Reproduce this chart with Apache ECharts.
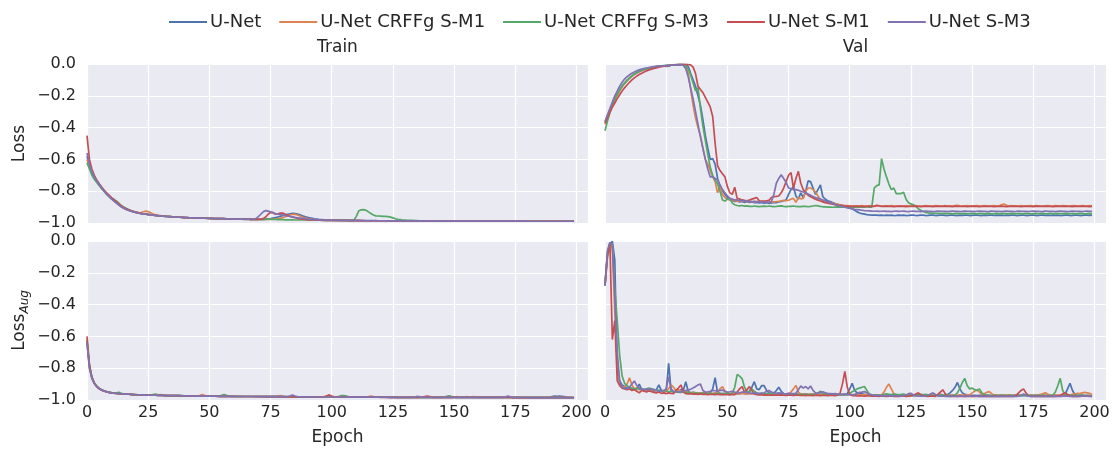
<!DOCTYPE html>
<html>
<head>
<meta charset="utf-8">
<script src="https://cdn.jsdelivr.net/npm/echarts@6/dist/echarts.min.js"></script>
<style>
  html, body { margin: 0; padding: 0; background: #ffffff; }
  #chart { width: 1113px; height: 451px; }
</style>
</head>
<body>
<div id="chart"></div>
<script>
// Model names (legend) and colours (seaborn "deep")
const modelNames = ['U-Net', 'U-Net CRFFg S-M1', 'U-Net CRFFg S-M3', 'U-Net S-M1', 'U-Net S-M3'];
const modelColors = ['#4C72B0', '#DD8452', '#55A868', '#C44E52', '#8172B3'];
const panelTitles = ['Train', 'Val'];
const rowLabels = ['Loss', 'LossAug'];
const xTicks = [0, 25, 50, 75, 100, 125, 150, 175, 200];
const yTicks = [-1.0, -0.8, -0.6, -0.4, -0.2, 0.0];
const epochs = Array.from({ length: 200 }, (_, i) => i);

// ---- Train loss ----
const trainLossUNet = [
-0.58,-0.64,-0.68,-0.71,-0.735,-0.755,-0.775,-0.795,-0.815,-0.83,
-0.845,-0.85,-0.87,-0.885,-0.898,-0.907,-0.914,-0.92,-0.925,-0.93,
-0.934,-0.937,-0.94,-0.942,-0.944,-0.946,-0.948,-0.95,-0.952,-0.953,
-0.955,-0.956,-0.957,-0.959,-0.96,-0.961,-0.962,-0.963,-0.964,-0.965,
-0.966,-0.966,-0.967,-0.967,-0.968,-0.968,-0.969,-0.969,-0.97,-0.97,
-0.971,-0.971,-0.972,-0.972,-0.972,-0.973,-0.973,-0.974,-0.974,-0.974,
-0.975,-0.975,-0.975,-0.976,-0.976,-0.976,-0.976,-0.977,-0.977,-0.977,
-0.977,-0.977,-0.977,-0.976,-0.974,-0.972,-0.969,-0.966,-0.962,-0.958,
-0.953,-0.949,-0.945,-0.942,-0.94,-0.941,-0.944,-0.949,-0.955,-0.96,
-0.964,-0.968,-0.971,-0.974,-0.976,-0.978,-0.979,-0.98,-0.981,-0.981,
-0.982,-0.982,-0.982,-0.983,-0.983,-0.983,-0.983,-0.984,-0.984,-0.984,
-0.984,-0.984,-0.985,-0.985,-0.985,-0.985,-0.985,-0.985,-0.985,-0.986,
-0.986,-0.986,-0.986,-0.986,-0.986,-0.986,-0.986,-0.986,-0.987,-0.987,
-0.987,-0.987,-0.987,-0.987,-0.987,-0.987,-0.987,-0.987,-0.987,-0.987,
-0.987,-0.987,-0.987,-0.988,-0.988,-0.988,-0.988,-0.988,-0.988,-0.988,
-0.988,-0.988,-0.988,-0.988,-0.988,-0.988,-0.988,-0.988,-0.988,-0.988,
-0.988,-0.988,-0.988,-0.988,-0.988,-0.988,-0.988,-0.988,-0.988,-0.988,
-0.988,-0.988,-0.988,-0.988,-0.988,-0.989,-0.989,-0.989,-0.989,-0.989,
-0.989,-0.989,-0.989,-0.989,-0.989,-0.989,-0.989,-0.989,-0.989,-0.989,
-0.989,-0.989,-0.989,-0.989,-0.989,-0.989,-0.989,-0.989,-0.989,-0.989
];
const trainLossCrffM1 = [
-0.6,-0.65,-0.69,-0.72,-0.74,-0.76,-0.78,-0.8,-0.815,-0.83,
-0.845,-0.86,-0.873,-0.886,-0.897,-0.906,-0.913,-0.919,-0.924,-0.929,
-0.933,-0.936,-0.934,-0.929,-0.925,-0.928,-0.936,-0.944,-0.949,-0.952,
-0.954,-0.956,-0.957,-0.958,-0.96,-0.961,-0.962,-0.963,-0.964,-0.965,
-0.966,-0.967,-0.967,-0.968,-0.968,-0.969,-0.969,-0.97,-0.97,-0.971,
-0.971,-0.972,-0.972,-0.972,-0.973,-0.973,-0.974,-0.974,-0.974,-0.975,
-0.975,-0.975,-0.976,-0.976,-0.976,-0.977,-0.977,-0.977,-0.977,-0.978,
-0.977,-0.978,-0.978,-0.978,-0.978,-0.977,-0.976,-0.975,-0.973,-0.97,
-0.966,-0.961,-0.955,-0.948,-0.945,-0.946,-0.95,-0.956,-0.962,-0.967,
-0.971,-0.974,-0.977,-0.979,-0.98,-0.981,-0.982,-0.982,-0.983,-0.983,
-0.983,-0.984,-0.984,-0.984,-0.984,-0.985,-0.985,-0.985,-0.985,-0.985,
-0.985,-0.985,-0.986,-0.986,-0.986,-0.986,-0.986,-0.986,-0.986,-0.986,
-0.986,-0.986,-0.987,-0.987,-0.987,-0.987,-0.987,-0.987,-0.987,-0.987,
-0.987,-0.987,-0.987,-0.987,-0.987,-0.987,-0.987,-0.987,-0.987,-0.987,
-0.987,-0.987,-0.988,-0.988,-0.988,-0.988,-0.988,-0.988,-0.988,-0.988,
-0.988,-0.988,-0.988,-0.988,-0.988,-0.988,-0.988,-0.988,-0.988,-0.988,
-0.988,-0.988,-0.988,-0.988,-0.988,-0.988,-0.988,-0.988,-0.988,-0.988,
-0.988,-0.988,-0.988,-0.988,-0.988,-0.988,-0.988,-0.988,-0.988,-0.988,
-0.988,-0.988,-0.988,-0.988,-0.988,-0.988,-0.988,-0.988,-0.988,-0.988,
-0.988,-0.988,-0.988,-0.988,-0.988,-0.989,-0.989,-0.989,-0.989,-0.989
];
const trainLossCrffM3 = [
-0.62,-0.66,-0.7,-0.725,-0.745,-0.765,-0.785,-0.8,-0.82,-0.835,
-0.848,-0.856,-0.86,-0.875,-0.89,-0.9,-0.908,-0.915,-0.921,-0.926,
-0.931,-0.935,-0.939,-0.942,-0.944,-0.947,-0.949,-0.951,-0.953,-0.954,
-0.956,-0.957,-0.958,-0.959,-0.96,-0.961,-0.962,-0.963,-0.964,-0.965,
-0.966,-0.967,-0.967,-0.968,-0.968,-0.969,-0.969,-0.97,-0.97,-0.971,
-0.971,-0.972,-0.972,-0.973,-0.973,-0.973,-0.974,-0.974,-0.975,-0.975,
-0.975,-0.976,-0.976,-0.976,-0.977,-0.977,-0.977,-0.977,-0.978,-0.978,
-0.978,-0.978,-0.978,-0.977,-0.976,-0.976,-0.977,-0.978,-0.979,-0.979,
-0.979,-0.98,-0.98,-0.98,-0.98,-0.981,-0.981,-0.981,-0.981,-0.981,
-0.982,-0.982,-0.982,-0.982,-0.982,-0.982,-0.983,-0.983,-0.983,-0.983,
-0.983,-0.983,-0.983,-0.983,-0.983,-0.983,-0.983,-0.983,-0.983,-0.983,
-0.96,-0.925,-0.917,-0.916,-0.92,-0.93,-0.94,-0.95,-0.955,-0.956,
-0.957,-0.958,-0.958,-0.96,-0.963,-0.968,-0.973,-0.977,-0.979,-0.981,
-0.982,-0.983,-0.984,-0.984,-0.985,-0.985,-0.986,-0.986,-0.986,-0.986,
-0.987,-0.987,-0.987,-0.987,-0.987,-0.987,-0.987,-0.988,-0.988,-0.988,
-0.988,-0.988,-0.988,-0.988,-0.988,-0.988,-0.988,-0.988,-0.988,-0.988,
-0.988,-0.988,-0.988,-0.988,-0.988,-0.988,-0.988,-0.988,-0.988,-0.988,
-0.988,-0.988,-0.988,-0.988,-0.988,-0.988,-0.989,-0.989,-0.989,-0.989,
-0.989,-0.989,-0.989,-0.989,-0.989,-0.989,-0.989,-0.989,-0.989,-0.989,
-0.989,-0.989,-0.989,-0.989,-0.989,-0.989,-0.989,-0.989,-0.989,-0.989
];
const trainLossSM1 = [
-0.45,-0.6,-0.66,-0.7,-0.73,-0.755,-0.775,-0.795,-0.81,-0.825,
-0.84,-0.855,-0.868,-0.88,-0.892,-0.902,-0.91,-0.917,-0.923,-0.928,
-0.932,-0.936,-0.939,-0.942,-0.944,-0.946,-0.948,-0.95,-0.952,-0.954,
-0.955,-0.956,-0.958,-0.959,-0.96,-0.961,-0.962,-0.963,-0.964,-0.965,
-0.966,-0.966,-0.967,-0.967,-0.968,-0.968,-0.969,-0.969,-0.97,-0.97,
-0.971,-0.971,-0.972,-0.972,-0.972,-0.973,-0.973,-0.974,-0.974,-0.974,
-0.975,-0.975,-0.975,-0.976,-0.976,-0.976,-0.976,-0.977,-0.977,-0.977,
-0.977,-0.976,-0.973,-0.962,-0.945,-0.933,-0.935,-0.945,-0.942,-0.937,
-0.938,-0.945,-0.952,-0.958,-0.963,-0.967,-0.971,-0.974,-0.976,-0.978,
-0.979,-0.98,-0.981,-0.981,-0.982,-0.982,-0.982,-0.983,-0.983,-0.983,
-0.983,-0.983,-0.984,-0.984,-0.984,-0.984,-0.984,-0.985,-0.985,-0.985,
-0.985,-0.985,-0.985,-0.985,-0.986,-0.986,-0.986,-0.986,-0.986,-0.986,
-0.986,-0.986,-0.986,-0.986,-0.987,-0.987,-0.987,-0.987,-0.987,-0.987,
-0.987,-0.987,-0.987,-0.987,-0.987,-0.987,-0.987,-0.987,-0.987,-0.987,
-0.987,-0.988,-0.988,-0.988,-0.988,-0.988,-0.988,-0.988,-0.988,-0.988,
-0.988,-0.988,-0.988,-0.988,-0.988,-0.988,-0.988,-0.988,-0.988,-0.988,
-0.988,-0.988,-0.988,-0.988,-0.988,-0.988,-0.988,-0.988,-0.988,-0.988,
-0.988,-0.988,-0.988,-0.988,-0.988,-0.988,-0.988,-0.988,-0.989,-0.989,
-0.989,-0.989,-0.989,-0.989,-0.989,-0.989,-0.989,-0.989,-0.989,-0.989,
-0.989,-0.989,-0.989,-0.989,-0.989,-0.989,-0.989,-0.989,-0.989,-0.989
];
const trainLossSM3 = [
-0.56,-0.63,-0.675,-0.71,-0.735,-0.76,-0.78,-0.8,-0.817,-0.833,
-0.848,-0.862,-0.875,-0.887,-0.898,-0.907,-0.915,-0.921,-0.926,-0.931,
-0.935,-0.938,-0.941,-0.943,-0.945,-0.947,-0.949,-0.951,-0.953,-0.954,
-0.956,-0.957,-0.958,-0.959,-0.96,-0.961,-0.962,-0.963,-0.964,-0.965,
-0.966,-0.966,-0.967,-0.967,-0.968,-0.968,-0.969,-0.969,-0.97,-0.97,
-0.971,-0.971,-0.972,-0.972,-0.972,-0.973,-0.973,-0.974,-0.974,-0.974,
-0.975,-0.975,-0.975,-0.976,-0.976,-0.976,-0.976,-0.977,-0.976,-0.972,
-0.96,-0.945,-0.93,-0.922,-0.925,-0.93,-0.935,-0.94,-0.944,-0.947,
-0.95,-0.953,-0.956,-0.959,-0.962,-0.965,-0.967,-0.969,-0.971,-0.973,
-0.975,-0.976,-0.977,-0.978,-0.979,-0.98,-0.981,-0.981,-0.982,-0.982,
-0.983,-0.983,-0.983,-0.984,-0.984,-0.984,-0.984,-0.985,-0.985,-0.985,
-0.985,-0.985,-0.985,-0.986,-0.986,-0.986,-0.986,-0.986,-0.986,-0.986,
-0.986,-0.986,-0.987,-0.987,-0.987,-0.987,-0.987,-0.987,-0.987,-0.987,
-0.987,-0.987,-0.987,-0.987,-0.987,-0.987,-0.987,-0.987,-0.987,-0.988,
-0.988,-0.988,-0.988,-0.988,-0.988,-0.988,-0.988,-0.988,-0.988,-0.988,
-0.988,-0.988,-0.988,-0.988,-0.988,-0.988,-0.988,-0.988,-0.988,-0.988,
-0.988,-0.988,-0.988,-0.988,-0.988,-0.988,-0.988,-0.988,-0.988,-0.988,
-0.988,-0.988,-0.988,-0.988,-0.988,-0.988,-0.988,-0.988,-0.988,-0.988,
-0.989,-0.989,-0.989,-0.989,-0.989,-0.989,-0.989,-0.989,-0.989,-0.989,
-0.989,-0.989,-0.989,-0.989,-0.989,-0.989,-0.989,-0.989,-0.989,-0.989
];

// ---- Validation loss ----
const valLossUNet = [
-0.37,-0.33,-0.29,-0.255,-0.22,-0.19,-0.163,-0.14,-0.12,-0.103,
-0.088,-0.075,-0.064,-0.055,-0.047,-0.04,-0.035,-0.03,-0.026,-0.022,
-0.019,-0.016,-0.014,-0.012,-0.012,-0.015,-0.013,-0.008,-0.006,-0.004,
-0.003,-0.002,-0.003,-0.005,-0.015,-0.06,-0.1,-0.14,-0.2,-0.26,
-0.35,-0.45,-0.53,-0.6,-0.595,-0.63,-0.72,-0.77,-0.795,-0.82,
-0.84,-0.855,-0.86,-0.865,-0.862,-0.868,-0.865,-0.87,-0.866,-0.87,
-0.868,-0.872,-0.87,-0.874,-0.87,-0.875,-0.872,-0.876,-0.874,-0.87,
-0.872,-0.868,-0.865,-0.86,-0.855,-0.82,-0.79,-0.77,-0.83,-0.85,
-0.81,-0.84,-0.8,-0.735,-0.74,-0.78,-0.82,-0.79,-0.76,-0.835,
-0.85,-0.86,-0.865,-0.872,-0.878,-0.882,-0.887,-0.891,-0.895,-0.898,
-0.902,-0.91,-0.92,-0.93,-0.937,-0.941,-0.944,-0.947,-0.949,-0.95,
-0.951,-0.95,-0.952,-0.951,-0.953,-0.95,-0.952,-0.951,-0.953,-0.952,
-0.95,-0.952,-0.951,-0.953,-0.952,-0.95,-0.951,-0.953,-0.952,-0.95,
-0.951,-0.953,-0.952,-0.95,-0.951,-0.953,-0.952,-0.951,-0.95,-0.952,
-0.953,-0.951,-0.95,-0.952,-0.953,-0.951,-0.952,-0.95,-0.951,-0.953,
-0.952,-0.951,-0.95,-0.952,-0.953,-0.951,-0.952,-0.95,-0.951,-0.953,
-0.951,-0.952,-0.95,-0.953,-0.951,-0.952,-0.95,-0.951,-0.953,-0.952,
-0.95,-0.951,-0.953,-0.952,-0.951,-0.95,-0.952,-0.953,-0.951,-0.95,
-0.952,-0.951,-0.953,-0.95,-0.952,-0.951,-0.953,-0.952,-0.95,-0.951,
-0.953,-0.952,-0.95,-0.951,-0.953,-0.952,-0.951,-0.95,-0.952,-0.951
];
const valLossCrffM1 = [
-0.38,-0.34,-0.3,-0.26,-0.225,-0.195,-0.168,-0.143,-0.122,-0.105,
-0.09,-0.077,-0.066,-0.057,-0.049,-0.042,-0.036,-0.031,-0.027,-0.023,
-0.02,-0.017,-0.015,-0.013,-0.011,-0.01,-0.008,-0.007,-0.006,-0.005,
-0.004,-0.004,-0.006,-0.012,-0.06,-0.16,-0.26,-0.34,-0.4,-0.45,
-0.53,-0.6,-0.63,-0.67,-0.71,-0.74,-0.81,-0.77,-0.82,-0.84,
-0.85,-0.855,-0.858,-0.86,-0.862,-0.865,-0.86,-0.863,-0.866,-0.862,
-0.865,-0.867,-0.863,-0.866,-0.868,-0.864,-0.867,-0.869,-0.866,-0.868,
-0.866,-0.864,-0.86,-0.858,-0.86,-0.857,-0.85,-0.845,-0.87,-0.84,
-0.848,-0.845,-0.8,-0.78,-0.78,-0.79,-0.805,-0.83,-0.85,-0.865,
-0.868,-0.87,-0.872,-0.875,-0.878,-0.882,-0.885,-0.888,-0.89,-0.891,
-0.892,-0.893,-0.892,-0.894,-0.893,-0.891,-0.893,-0.894,-0.892,-0.893,
-0.894,-0.892,-0.89,-0.893,-0.894,-0.892,-0.893,-0.891,-0.894,-0.893,
-0.892,-0.894,-0.893,-0.891,-0.893,-0.894,-0.892,-0.89,-0.893,-0.894,
-0.893,-0.891,-0.894,-0.892,-0.893,-0.89,-0.892,-0.894,-0.893,-0.891,
-0.894,-0.892,-0.893,-0.891,-0.889,-0.892,-0.894,-0.893,-0.891,-0.893,
-0.892,-0.894,-0.891,-0.893,-0.892,-0.89,-0.893,-0.894,-0.892,-0.891,
-0.893,-0.892,-0.886,-0.88,-0.889,-0.893,-0.891,-0.894,-0.892,-0.893,
-0.891,-0.893,-0.894,-0.892,-0.89,-0.893,-0.891,-0.892,-0.894,-0.893,
-0.892,-0.89,-0.893,-0.894,-0.891,-0.892,-0.893,-0.89,-0.892,-0.894,
-0.893,-0.891,-0.892,-0.894,-0.893,-0.89,-0.892,-0.893,-0.891,-0.892
];
const valLossCrffM3 = [
-0.42,-0.36,-0.305,-0.26,-0.22,-0.19,-0.163,-0.14,-0.12,-0.103,
-0.088,-0.075,-0.064,-0.055,-0.047,-0.04,-0.035,-0.03,-0.026,-0.022,
-0.019,-0.016,-0.014,-0.012,-0.01,-0.009,-0.008,-0.007,-0.006,-0.005,
-0.004,-0.004,-0.006,-0.01,-0.03,-0.07,-0.12,-0.17,-0.15,-0.28,
-0.39,-0.48,-0.57,-0.65,-0.7,-0.73,-0.755,-0.8,-0.855,-0.862,
-0.85,-0.845,-0.875,-0.885,-0.89,-0.892,-0.89,-0.894,-0.892,-0.895,
-0.896,-0.893,-0.895,-0.897,-0.895,-0.894,-0.896,-0.893,-0.895,-0.897,
-0.896,-0.894,-0.892,-0.895,-0.897,-0.896,-0.895,-0.893,-0.896,-0.897,
-0.897,-0.895,-0.896,-0.898,-0.896,-0.893,-0.89,-0.892,-0.896,-0.898,
-0.899,-0.9,-0.9,-0.901,-0.9,-0.899,-0.9,-0.9,-0.899,-0.9,
-0.9,-0.901,-0.899,-0.9,-0.9,-0.899,-0.9,-0.898,-0.9,-0.9,
-0.78,-0.765,-0.76,-0.595,-0.66,-0.71,-0.755,-0.79,-0.78,-0.815,
-0.815,-0.815,-0.807,-0.85,-0.872,-0.88,-0.885,-0.895,-0.91,-0.92,
-0.928,-0.934,-0.937,-0.938,-0.939,-0.94,-0.94,-0.94,-0.941,-0.94,
-0.941,-0.94,-0.942,-0.941,-0.94,-0.942,-0.941,-0.94,-0.941,-0.942,
-0.94,-0.941,-0.942,-0.94,-0.941,-0.942,-0.941,-0.94,-0.942,-0.941,
-0.94,-0.942,-0.941,-0.94,-0.941,-0.942,-0.94,-0.941,-0.942,-0.94,
-0.941,-0.942,-0.94,-0.941,-0.942,-0.941,-0.94,-0.942,-0.941,-0.94,
-0.942,-0.941,-0.94,-0.942,-0.941,-0.94,-0.941,-0.942,-0.94,-0.941,
-0.942,-0.94,-0.941,-0.942,-0.94,-0.941,-0.942,-0.941,-0.94,-0.941
];
const valLossSM1 = [
-0.37,-0.34,-0.305,-0.272,-0.245,-0.218,-0.193,-0.17,-0.15,-0.132,
-0.115,-0.1,-0.087,-0.076,-0.066,-0.058,-0.05,-0.043,-0.037,-0.032,
-0.028,-0.024,-0.02,-0.017,-0.014,-0.012,-0.01,-0.008,-0.006,-0.005,
-0.004,-0.003,-0.002,-0.002,-0.003,-0.006,-0.02,-0.06,-0.14,-0.16,
-0.18,-0.21,-0.24,-0.27,-0.33,-0.5,-0.64,-0.67,-0.69,-0.71,
-0.77,-0.81,-0.82,-0.775,-0.845,-0.85,-0.855,-0.858,-0.86,-0.855,
-0.85,-0.845,-0.84,-0.86,-0.862,-0.863,-0.86,-0.858,-0.84,-0.835,
-0.833,-0.83,-0.81,-0.78,-0.74,-0.7,-0.683,-0.78,-0.72,-0.675,
-0.75,-0.79,-0.81,-0.825,-0.835,-0.842,-0.85,-0.856,-0.862,-0.867,
-0.872,-0.876,-0.879,-0.882,-0.885,-0.887,-0.889,-0.891,-0.893,-0.894,
-0.895,-0.896,-0.895,-0.894,-0.896,-0.895,-0.897,-0.895,-0.894,-0.896,
-0.895,-0.889,-0.893,-0.896,-0.895,-0.894,-0.896,-0.895,-0.897,-0.895,
-0.896,-0.894,-0.895,-0.897,-0.895,-0.896,-0.894,-0.895,-0.896,-0.897,
-0.895,-0.894,-0.896,-0.895,-0.897,-0.895,-0.894,-0.896,-0.895,-0.894,
-0.896,-0.895,-0.897,-0.894,-0.895,-0.896,-0.895,-0.894,-0.897,-0.895,
-0.896,-0.894,-0.895,-0.897,-0.896,-0.895,-0.894,-0.896,-0.895,-0.897,
-0.895,-0.896,-0.894,-0.895,-0.897,-0.895,-0.896,-0.894,-0.895,-0.896,
-0.897,-0.895,-0.894,-0.896,-0.895,-0.897,-0.894,-0.895,-0.896,-0.895,
-0.894,-0.896,-0.895,-0.897,-0.895,-0.894,-0.896,-0.895,-0.894,-0.896,
-0.895,-0.897,-0.894,-0.896,-0.895,-0.894,-0.896,-0.895,-0.897,-0.895
];
const valLossSM3 = [
-0.36,-0.32,-0.28,-0.24,-0.2,-0.17,-0.14,-0.115,-0.095,-0.08,
-0.068,-0.058,-0.05,-0.043,-0.037,-0.032,-0.028,-0.025,-0.022,-0.019,
-0.017,-0.015,-0.013,-0.012,-0.011,-0.01,-0.009,-0.008,-0.007,-0.006,
-0.005,-0.005,-0.008,-0.03,-0.08,-0.15,-0.22,-0.3,-0.38,-0.46,
-0.53,-0.6,-0.66,-0.71,-0.71,-0.72,-0.73,-0.76,-0.79,-0.81,
-0.83,-0.845,-0.85,-0.855,-0.855,-0.86,-0.858,-0.862,-0.86,-0.865,
-0.866,-0.864,-0.868,-0.866,-0.87,-0.868,-0.87,-0.872,-0.865,-0.82,
-0.75,-0.72,-0.697,-0.72,-0.745,-0.78,-0.785,-0.79,-0.79,-0.795,
-0.8,-0.805,-0.81,-0.818,-0.825,-0.833,-0.84,-0.845,-0.85,-0.855,
-0.86,-0.866,-0.872,-0.878,-0.884,-0.889,-0.893,-0.897,-0.901,-0.905,
-0.908,-0.911,-0.914,-0.916,-0.918,-0.92,-0.922,-0.923,-0.924,-0.925,
-0.926,-0.925,-0.927,-0.926,-0.925,-0.927,-0.926,-0.928,-0.926,-0.925,
-0.927,-0.926,-0.925,-0.927,-0.928,-0.926,-0.925,-0.927,-0.926,-0.928,
-0.926,-0.925,-0.927,-0.926,-0.928,-0.927,-0.925,-0.926,-0.927,-0.926,
-0.928,-0.926,-0.925,-0.927,-0.926,-0.928,-0.927,-0.925,-0.926,-0.927,
-0.926,-0.928,-0.926,-0.925,-0.927,-0.926,-0.928,-0.927,-0.925,-0.926,
-0.927,-0.926,-0.928,-0.926,-0.925,-0.927,-0.926,-0.928,-0.927,-0.925,
-0.926,-0.927,-0.926,-0.928,-0.926,-0.925,-0.927,-0.926,-0.928,-0.927,
-0.925,-0.926,-0.927,-0.926,-0.928,-0.926,-0.925,-0.927,-0.926,-0.928,
-0.927,-0.925,-0.926,-0.927,-0.926,-0.928,-0.926,-0.925,-0.927,-0.926
];

// ---- Train loss (augmented) ----
const trainAugUNet = [
-0.63,-0.79,-0.86,-0.895,-0.915,-0.928,-0.937,-0.943,-0.948,-0.952,
-0.955,-0.957,-0.958,-0.96,-0.961,-0.962,-0.963,-0.964,-0.965,-0.966,
-0.967,-0.967,-0.968,-0.968,-0.969,-0.969,-0.97,-0.97,-0.97,-0.971,
-0.971,-0.971,-0.972,-0.972,-0.972,-0.973,-0.973,-0.973,-0.973,-0.974,
-0.974,-0.974,-0.974,-0.975,-0.975,-0.975,-0.975,-0.975,-0.976,-0.976,
-0.976,-0.976,-0.976,-0.976,-0.977,-0.977,-0.977,-0.977,-0.977,-0.977,
-0.977,-0.978,-0.978,-0.978,-0.978,-0.978,-0.978,-0.978,-0.978,-0.978,
-0.978,-0.979,-0.979,-0.979,-0.979,-0.979,-0.979,-0.979,-0.979,-0.979,
-0.979,-0.98,-0.98,-0.98,-0.98,-0.98,-0.98,-0.98,-0.98,-0.98,
-0.98,-0.98,-0.981,-0.981,-0.981,-0.981,-0.981,-0.981,-0.981,-0.981,
-0.981,-0.981,-0.981,-0.981,-0.981,-0.982,-0.982,-0.982,-0.982,-0.982,
-0.982,-0.982,-0.982,-0.982,-0.982,-0.982,-0.982,-0.982,-0.982,-0.982,
-0.982,-0.982,-0.982,-0.983,-0.983,-0.983,-0.983,-0.983,-0.983,-0.983,
-0.983,-0.983,-0.983,-0.983,-0.983,-0.983,-0.983,-0.983,-0.983,-0.983,
-0.983,-0.983,-0.983,-0.983,-0.983,-0.983,-0.984,-0.984,-0.984,-0.984,
-0.984,-0.984,-0.984,-0.984,-0.984,-0.984,-0.984,-0.984,-0.984,-0.984,
-0.984,-0.984,-0.984,-0.984,-0.984,-0.984,-0.984,-0.984,-0.984,-0.984,
-0.984,-0.984,-0.984,-0.984,-0.985,-0.985,-0.985,-0.985,-0.985,-0.985,
-0.985,-0.985,-0.985,-0.985,-0.985,-0.985,-0.985,-0.985,-0.985,-0.985,
-0.978,-0.976,-0.977,-0.976,-0.977,-0.978,-0.984,-0.985,-0.985,-0.985
];
const trainAugCrffM1 = [
-0.64,-0.8,-0.865,-0.898,-0.917,-0.93,-0.938,-0.944,-0.949,-0.952,
-0.955,-0.957,-0.959,-0.96,-0.961,-0.962,-0.963,-0.964,-0.965,-0.966,
-0.966,-0.967,-0.968,-0.968,-0.969,-0.969,-0.969,-0.97,-0.97,-0.968,
-0.966,-0.969,-0.971,-0.972,-0.972,-0.972,-0.973,-0.973,-0.973,-0.974,
-0.974,-0.974,-0.974,-0.974,-0.975,-0.975,-0.972,-0.966,-0.971,-0.975,
-0.976,-0.976,-0.976,-0.976,-0.976,-0.977,-0.977,-0.977,-0.977,-0.977,
-0.977,-0.977,-0.978,-0.978,-0.978,-0.978,-0.978,-0.978,-0.978,-0.978,
-0.978,-0.978,-0.979,-0.979,-0.979,-0.979,-0.979,-0.978,-0.975,-0.972,
-0.976,-0.979,-0.98,-0.98,-0.98,-0.98,-0.98,-0.98,-0.98,-0.98,
-0.98,-0.98,-0.98,-0.981,-0.981,-0.981,-0.981,-0.981,-0.981,-0.981,
-0.981,-0.981,-0.981,-0.981,-0.981,-0.981,-0.982,-0.982,-0.982,-0.982,
-0.982,-0.982,-0.982,-0.982,-0.982,-0.979,-0.975,-0.978,-0.981,-0.982,
-0.982,-0.982,-0.982,-0.982,-0.983,-0.983,-0.983,-0.983,-0.983,-0.983,
-0.983,-0.983,-0.983,-0.983,-0.983,-0.983,-0.983,-0.983,-0.983,-0.983,
-0.983,-0.983,-0.983,-0.983,-0.983,-0.983,-0.983,-0.983,-0.983,-0.983,
-0.981,-0.979,-0.981,-0.983,-0.982,-0.979,-0.98,-0.982,-0.979,-0.982,
-0.984,-0.984,-0.984,-0.984,-0.984,-0.984,-0.984,-0.984,-0.984,-0.984,
-0.984,-0.984,-0.984,-0.984,-0.984,-0.984,-0.984,-0.984,-0.984,-0.984,
-0.984,-0.984,-0.984,-0.984,-0.984,-0.984,-0.984,-0.984,-0.984,-0.984,
-0.984,-0.984,-0.984,-0.984,-0.984,-0.984,-0.984,-0.984,-0.984,-0.984
];
const trainAugCrffM3 = [
-0.62,-0.78,-0.855,-0.892,-0.913,-0.927,-0.936,-0.942,-0.947,-0.951,
-0.954,-0.956,-0.955,-0.952,-0.958,-0.961,-0.963,-0.964,-0.965,-0.966,
-0.966,-0.967,-0.968,-0.968,-0.969,-0.969,-0.969,-0.966,-0.963,-0.967,
-0.97,-0.971,-0.971,-0.972,-0.972,-0.972,-0.973,-0.973,-0.973,-0.973,
-0.974,-0.974,-0.974,-0.974,-0.975,-0.975,-0.975,-0.975,-0.975,-0.976,
-0.976,-0.976,-0.976,-0.976,-0.975,-0.97,-0.966,-0.971,-0.975,-0.977,
-0.977,-0.977,-0.977,-0.977,-0.978,-0.978,-0.978,-0.978,-0.978,-0.978,
-0.978,-0.978,-0.978,-0.979,-0.979,-0.979,-0.979,-0.979,-0.979,-0.979,
-0.979,-0.979,-0.979,-0.98,-0.98,-0.98,-0.98,-0.98,-0.98,-0.98,
-0.98,-0.98,-0.98,-0.98,-0.981,-0.981,-0.981,-0.981,-0.981,-0.981,
-0.981,-0.981,-0.98,-0.977,-0.972,-0.972,-0.976,-0.98,-0.981,-0.981,
-0.981,-0.982,-0.982,-0.982,-0.982,-0.982,-0.982,-0.982,-0.982,-0.982,
-0.982,-0.982,-0.982,-0.982,-0.982,-0.982,-0.982,-0.983,-0.983,-0.983,
-0.983,-0.983,-0.983,-0.983,-0.983,-0.983,-0.983,-0.983,-0.983,-0.983,
-0.983,-0.983,-0.983,-0.983,-0.983,-0.983,-0.981,-0.977,-0.974,-0.978,
-0.982,-0.983,-0.983,-0.983,-0.984,-0.984,-0.984,-0.984,-0.984,-0.984,
-0.984,-0.984,-0.984,-0.984,-0.984,-0.984,-0.984,-0.984,-0.984,-0.984,
-0.984,-0.984,-0.984,-0.984,-0.984,-0.984,-0.984,-0.984,-0.984,-0.984,
-0.984,-0.984,-0.984,-0.984,-0.984,-0.984,-0.984,-0.984,-0.984,-0.984,
-0.985,-0.985,-0.985,-0.985,-0.985,-0.985,-0.985,-0.985,-0.985,-0.985
];
const trainAugSM1 = [
-0.6,-0.78,-0.858,-0.894,-0.915,-0.928,-0.937,-0.943,-0.948,-0.952,
-0.955,-0.957,-0.959,-0.96,-0.961,-0.962,-0.963,-0.964,-0.965,-0.966,
-0.967,-0.967,-0.968,-0.968,-0.969,-0.969,-0.97,-0.97,-0.97,-0.971,
-0.971,-0.971,-0.972,-0.972,-0.972,-0.973,-0.973,-0.973,-0.974,-0.974,
-0.974,-0.974,-0.974,-0.975,-0.975,-0.975,-0.975,-0.976,-0.976,-0.976,
-0.976,-0.976,-0.976,-0.977,-0.977,-0.977,-0.977,-0.977,-0.977,-0.977,
-0.978,-0.978,-0.978,-0.978,-0.978,-0.978,-0.978,-0.978,-0.978,-0.979,
-0.979,-0.979,-0.979,-0.979,-0.979,-0.979,-0.979,-0.979,-0.979,-0.98,
-0.98,-0.98,-0.98,-0.98,-0.98,-0.98,-0.98,-0.98,-0.98,-0.98,
-0.98,-0.981,-0.981,-0.981,-0.981,-0.981,-0.981,-0.979,-0.974,-0.968,
-0.975,-0.98,-0.981,-0.981,-0.981,-0.981,-0.982,-0.982,-0.982,-0.982,
-0.982,-0.982,-0.982,-0.982,-0.982,-0.982,-0.982,-0.982,-0.982,-0.982,
-0.983,-0.983,-0.983,-0.983,-0.983,-0.983,-0.983,-0.983,-0.983,-0.983,
-0.983,-0.983,-0.983,-0.983,-0.983,-0.983,-0.983,-0.981,-0.978,-0.975,
-0.979,-0.983,-0.983,-0.983,-0.983,-0.984,-0.984,-0.984,-0.984,-0.984,
-0.984,-0.984,-0.984,-0.984,-0.984,-0.984,-0.984,-0.984,-0.984,-0.984,
-0.984,-0.984,-0.984,-0.984,-0.984,-0.984,-0.984,-0.984,-0.984,-0.984,
-0.984,-0.984,-0.984,-0.984,-0.985,-0.985,-0.985,-0.985,-0.985,-0.985,
-0.985,-0.985,-0.985,-0.985,-0.985,-0.985,-0.985,-0.985,-0.985,-0.985,
-0.985,-0.985,-0.985,-0.985,-0.985,-0.985,-0.985,-0.985,-0.986,-0.986
];
const trainAugSM3 = [
-0.64,-0.8,-0.862,-0.896,-0.916,-0.929,-0.938,-0.944,-0.948,-0.952,
-0.955,-0.957,-0.959,-0.96,-0.961,-0.962,-0.963,-0.964,-0.965,-0.966,
-0.967,-0.967,-0.968,-0.968,-0.969,-0.969,-0.97,-0.97,-0.97,-0.971,
-0.971,-0.971,-0.972,-0.972,-0.972,-0.973,-0.973,-0.973,-0.973,-0.974,
-0.974,-0.974,-0.974,-0.975,-0.975,-0.975,-0.975,-0.975,-0.976,-0.976,
-0.976,-0.976,-0.976,-0.976,-0.977,-0.977,-0.977,-0.977,-0.977,-0.977,
-0.977,-0.978,-0.978,-0.978,-0.978,-0.978,-0.978,-0.978,-0.978,-0.978,
-0.978,-0.979,-0.979,-0.979,-0.979,-0.979,-0.979,-0.979,-0.979,-0.979,
-0.979,-0.979,-0.978,-0.974,-0.969,-0.975,-0.979,-0.98,-0.98,-0.98,
-0.98,-0.98,-0.98,-0.98,-0.981,-0.981,-0.981,-0.981,-0.981,-0.981,
-0.981,-0.981,-0.981,-0.981,-0.981,-0.981,-0.982,-0.982,-0.982,-0.982,
-0.982,-0.982,-0.982,-0.982,-0.982,-0.982,-0.982,-0.982,-0.982,-0.982,
-0.982,-0.982,-0.982,-0.982,-0.983,-0.983,-0.983,-0.983,-0.983,-0.983,
-0.983,-0.983,-0.983,-0.983,-0.981,-0.977,-0.98,-0.983,-0.983,-0.983,
-0.983,-0.983,-0.983,-0.983,-0.983,-0.983,-0.983,-0.983,-0.984,-0.984,
-0.984,-0.984,-0.984,-0.984,-0.984,-0.984,-0.984,-0.984,-0.984,-0.984,
-0.984,-0.984,-0.984,-0.984,-0.984,-0.984,-0.984,-0.984,-0.984,-0.984,
-0.984,-0.98,-0.976,-0.98,-0.984,-0.984,-0.984,-0.984,-0.984,-0.984,
-0.985,-0.985,-0.985,-0.985,-0.985,-0.985,-0.985,-0.985,-0.985,-0.985,
-0.985,-0.985,-0.985,-0.985,-0.985,-0.985,-0.985,-0.985,-0.985,-0.985
];

// ---- Validation loss (augmented) ----
const valAugUNet = [
-0.28,-0.09,-0.02,-0.002,-0.12,-0.83,-0.88,-0.905,-0.915,-0.925,
-0.93,-0.935,-0.928,-0.93,-0.9,-0.935,-0.94,-0.938,-0.945,-0.94,
-0.945,-0.935,-0.905,-0.94,-0.948,-0.945,-0.77,-0.94,-0.95,-0.945,
-0.952,-0.935,-0.94,-0.885,-0.945,-0.955,-0.952,-0.955,-0.958,-0.955,
-0.958,-0.955,-0.96,-0.955,-0.93,-0.86,-0.955,-0.958,-0.96,-0.958,
-0.96,-0.962,-0.958,-0.96,-0.962,-0.96,-0.955,-0.958,-0.962,-0.945,
-0.92,-0.885,-0.93,-0.935,-0.91,-0.91,-0.94,-0.955,-0.96,-0.958,
-0.94,-0.92,-0.945,-0.96,-0.962,-0.96,-0.963,-0.96,-0.962,-0.965,
-0.963,-0.965,-0.962,-0.965,-0.966,-0.963,-0.965,-0.962,-0.964,-0.966,
-0.965,-0.967,-0.964,-0.966,-0.965,-0.967,-0.966,-0.968,-0.965,-0.96,
-0.93,-0.895,-0.94,-0.955,-0.96,-0.962,-0.965,-0.968,-0.97,-0.968,
-0.97,-0.968,-0.97,-0.972,-0.97,-0.968,-0.971,-0.97,-0.972,-0.97,
-0.971,-0.972,-0.97,-0.972,-0.97,-0.971,-0.973,-0.97,-0.972,-0.971,
-0.972,-0.97,-0.972,-0.971,-0.973,-0.97,-0.968,-0.965,-0.968,-0.97,
-0.965,-0.955,-0.94,-0.92,-0.89,-0.93,-0.955,-0.965,-0.968,-0.97,
-0.971,-0.97,-0.972,-0.97,-0.971,-0.972,-0.97,-0.971,-0.973,-0.972,
-0.971,-0.972,-0.973,-0.971,-0.972,-0.973,-0.972,-0.97,-0.972,-0.971,
-0.972,-0.973,-0.971,-0.972,-0.973,-0.972,-0.971,-0.973,-0.972,-0.971,
-0.972,-0.973,-0.972,-0.971,-0.972,-0.973,-0.972,-0.97,-0.965,-0.93,
-0.895,-0.94,-0.965,-0.97,-0.972,-0.971,-0.972,-0.973,-0.972,-0.974
];
const valAugCrffM1 = [
-0.27,-0.08,-0.015,-0.05,-0.45,-0.75,-0.9,-0.915,-0.92,-0.9,
-0.86,-0.905,-0.93,-0.925,-0.935,-0.93,-0.938,-0.935,-0.94,-0.938,
-0.942,-0.94,-0.945,-0.942,-0.948,-0.945,-0.93,-0.905,-0.92,-0.94,
-0.935,-0.945,-0.95,-0.948,-0.952,-0.955,-0.952,-0.955,-0.958,-0.955,
-0.958,-0.955,-0.96,-0.958,-0.96,-0.955,-0.95,-0.93,-0.916,-0.945,
-0.955,-0.958,-0.96,-0.958,-0.962,-0.96,-0.958,-0.962,-0.96,-0.962,
-0.96,-0.962,-0.96,-0.963,-0.961,-0.963,-0.962,-0.96,-0.963,-0.962,
-0.963,-0.962,-0.964,-0.963,-0.962,-0.964,-0.95,-0.93,-0.908,-0.95,
-0.962,-0.964,-0.963,-0.965,-0.964,-0.963,-0.965,-0.964,-0.966,-0.965,
-0.966,-0.964,-0.965,-0.967,-0.966,-0.965,-0.967,-0.966,-0.965,-0.967,
-0.966,-0.967,-0.965,-0.966,-0.968,-0.967,-0.966,-0.968,-0.967,-0.969,
-0.968,-0.967,-0.969,-0.968,-0.95,-0.92,-0.9,-0.93,-0.96,-0.967,
-0.968,-0.967,-0.969,-0.968,-0.97,-0.968,-0.969,-0.97,-0.968,-0.969,
-0.97,-0.968,-0.969,-0.97,-0.968,-0.969,-0.97,-0.969,-0.968,-0.97,
-0.969,-0.97,-0.968,-0.969,-0.97,-0.968,-0.969,-0.97,-0.968,-0.969,
-0.955,-0.945,-0.936,-0.95,-0.965,-0.96,-0.952,-0.947,-0.96,-0.968,
-0.969,-0.97,-0.968,-0.969,-0.97,-0.968,-0.969,-0.97,-0.968,-0.969,
-0.97,-0.968,-0.969,-0.97,-0.968,-0.969,-0.97,-0.968,-0.965,-0.96,
-0.954,-0.965,-0.969,-0.97,-0.968,-0.969,-0.97,-0.968,-0.969,-0.97,
-0.968,-0.965,-0.962,-0.958,-0.96,-0.955,-0.952,-0.955,-0.958,-0.965
];
const valAugCrffM3 = [
-0.28,-0.07,-0.015,-0.02,-0.3,-0.5,-0.72,-0.85,-0.895,-0.91,
-0.92,-0.925,-0.93,-0.928,-0.932,-0.93,-0.935,-0.93,-0.925,-0.93,
-0.935,-0.94,-0.938,-0.945,-0.94,-0.945,-0.948,-0.945,-0.95,-0.948,
-0.95,-0.952,-0.95,-0.955,-0.952,-0.955,-0.958,-0.955,-0.958,-0.96,
-0.955,-0.958,-0.96,-0.958,-0.96,-0.962,-0.96,-0.958,-0.962,-0.96,
-0.962,-0.96,-0.958,-0.92,-0.84,-0.85,-0.865,-0.92,-0.945,-0.95,
-0.93,-0.945,-0.955,-0.96,-0.958,-0.962,-0.96,-0.962,-0.96,-0.962,
-0.96,-0.962,-0.965,-0.963,-0.965,-0.962,-0.964,-0.965,-0.963,-0.965,
-0.966,-0.964,-0.965,-0.967,-0.965,-0.966,-0.964,-0.955,-0.945,-0.958,
-0.965,-0.966,-0.968,-0.966,-0.967,-0.965,-0.967,-0.968,-0.966,-0.967,
-0.96,-0.948,-0.94,-0.93,-0.925,-0.92,-0.915,-0.94,-0.962,-0.968,
-0.97,-0.968,-0.97,-0.972,-0.965,-0.962,-0.964,-0.966,-0.963,-0.965,
-0.966,-0.965,-0.963,-0.967,-0.969,-0.97,-0.972,-0.97,-0.968,-0.966,
-0.966,-0.965,-0.967,-0.969,-0.97,-0.971,-0.972,-0.97,-0.968,-0.97,
-0.971,-0.97,-0.972,-0.97,-0.955,-0.925,-0.89,-0.864,-0.91,-0.93,
-0.925,-0.935,-0.94,-0.93,-0.955,-0.965,-0.97,-0.971,-0.972,-0.97,
-0.971,-0.972,-0.97,-0.971,-0.972,-0.97,-0.971,-0.972,-0.97,-0.971,
-0.972,-0.971,-0.97,-0.972,-0.971,-0.972,-0.97,-0.971,-0.972,-0.97,
-0.971,-0.972,-0.971,-0.97,-0.95,-0.91,-0.864,-0.94,-0.968,-0.97,
-0.971,-0.97,-0.972,-0.971,-0.97,-0.968,-0.972,-0.971,-0.973,-0.974
];
const valAugSM1 = [
-0.28,-0.1,-0.01,-0.62,-0.5,-0.88,-0.91,-0.925,-0.93,-0.935,
-0.93,-0.94,-0.935,-0.945,-0.955,-0.94,-0.945,-0.95,-0.94,-0.948,
-0.952,-0.955,-0.95,-0.958,-0.955,-0.96,-0.955,-0.958,-0.96,-0.94,
-0.925,-0.905,-0.95,-0.96,-0.962,-0.96,-0.963,-0.962,-0.965,-0.962,
-0.965,-0.963,-0.966,-0.964,-0.965,-0.966,-0.964,-0.966,-0.965,-0.967,
-0.966,-0.968,-0.965,-0.967,-0.95,-0.93,-0.916,-0.95,-0.935,-0.916,
-0.94,-0.962,-0.966,-0.968,-0.967,-0.969,-0.968,-0.97,-0.968,-0.97,
-0.969,-0.97,-0.968,-0.97,-0.971,-0.969,-0.97,-0.971,-0.969,-0.97,
-0.971,-0.97,-0.972,-0.97,-0.971,-0.972,-0.97,-0.971,-0.972,-0.97,
-0.971,-0.972,-0.97,-0.971,-0.972,-0.97,-0.96,-0.9,-0.82,-0.92,
-0.965,-0.972,-0.973,-0.975,-0.974,-0.975,-0.976,-0.974,-0.975,-0.976,
-0.975,-0.976,-0.977,-0.975,-0.976,-0.977,-0.976,-0.975,-0.977,-0.976,
-0.977,-0.976,-0.975,-0.977,-0.976,-0.975,-0.97,-0.962,-0.955,-0.965,
-0.975,-0.976,-0.977,-0.975,-0.976,-0.977,-0.965,-0.95,-0.936,-0.96,
-0.975,-0.977,-0.976,-0.978,-0.977,-0.976,-0.978,-0.977,-0.976,-0.978,
-0.977,-0.978,-0.976,-0.977,-0.978,-0.977,-0.976,-0.978,-0.977,-0.976,
-0.978,-0.977,-0.976,-0.978,-0.977,-0.976,-0.978,-0.977,-0.97,-0.955,
-0.94,-0.93,-0.955,-0.975,-0.977,-0.978,-0.976,-0.977,-0.978,-0.976,
-0.977,-0.978,-0.976,-0.977,-0.978,-0.976,-0.97,-0.962,-0.955,-0.965,
-0.975,-0.977,-0.976,-0.978,-0.977,-0.976,-0.975,-0.974,-0.976,-0.977
];
const valAugSM3 = [
-0.28,-0.06,-0.01,-0.02,-0.35,-0.7,-0.88,-0.92,-0.925,-0.93,
-0.92,-0.9,-0.88,-0.91,-0.925,-0.93,-0.935,-0.93,-0.935,-0.932,
-0.935,-0.94,-0.945,-0.94,-0.942,-0.93,-0.855,-0.93,-0.945,-0.948,
-0.95,-0.948,-0.945,-0.94,-0.938,-0.932,-0.925,-0.915,-0.905,-0.9,
-0.94,-0.95,-0.948,-0.945,-0.94,-0.942,-0.945,-0.94,-0.938,-0.945,
-0.95,-0.948,-0.945,-0.95,-0.952,-0.955,-0.95,-0.948,-0.952,-0.955,
-0.958,-0.955,-0.958,-0.96,-0.957,-0.955,-0.945,-0.94,-0.95,-0.955,
-0.958,-0.955,-0.957,-0.96,-0.962,-0.958,-0.96,-0.962,-0.958,-0.935,
-0.912,-0.925,-0.915,-0.93,-0.912,-0.94,-0.955,-0.958,-0.952,-0.948,
-0.955,-0.958,-0.96,-0.962,-0.96,-0.963,-0.965,-0.963,-0.965,-0.966,
-0.965,-0.967,-0.966,-0.96,-0.952,-0.95,-0.947,-0.955,-0.965,-0.968,
-0.97,-0.972,-0.971,-0.973,-0.972,-0.974,-0.973,-0.972,-0.974,-0.973,
-0.974,-0.975,-0.973,-0.968,-0.96,-0.958,-0.968,-0.974,-0.975,-0.976,
-0.975,-0.974,-0.97,-0.962,-0.955,-0.965,-0.974,-0.976,-0.975,-0.977,
-0.976,-0.977,-0.975,-0.976,-0.977,-0.975,-0.976,-0.977,-0.976,-0.975,
-0.977,-0.976,-0.975,-0.977,-0.976,-0.978,-0.977,-0.976,-0.978,-0.977,
-0.976,-0.978,-0.977,-0.976,-0.978,-0.977,-0.976,-0.978,-0.977,-0.976,
-0.97,-0.962,-0.968,-0.976,-0.978,-0.977,-0.976,-0.978,-0.977,-0.978,
-0.977,-0.976,-0.978,-0.977,-0.976,-0.978,-0.977,-0.976,-0.975,-0.976,
-0.977,-0.976,-0.978,-0.977,-0.976,-0.974,-0.975,-0.976,-0.977,-0.978
];

// Panels: [train loss, val loss, train aug, val aug]
const panels = [
  [trainLossUNet, trainLossCrffM1, trainLossCrffM3, trainLossSM1, trainLossSM3],
  [valLossUNet, valLossCrffM1, valLossCrffM3, valLossSM1, valLossSM3],
  [trainAugUNet, trainAugCrffM1, trainAugCrffM3, trainAugSM1, trainAugSM3],
  [valAugUNet, valAugCrffM1, valAugCrffM3, valAugSM1, valAugSM3]
];

const FONT = 'DejaVu Sans';
const TEXT = '#262626';
const BG = '#EAEAF2';
const gridBoxes = [
  { left: 87, top: 64 }, { left: 605, top: 64 },
  { left: 87, top: 241 }, { left: 605, top: 241 }
];
const GW = 501, GH = 159;
const XMAX = 204.7;

const chart = echarts.init(document.getElementById('chart'), null, { renderer: 'canvas' });

const fmtY = v => {
  const r = Math.round(v * 10) / 10;
  return r === 0 ? '0.0' : (r < 0 ? '\u2212' : '') + Math.abs(r).toFixed(1);
};
const fmtX = v => (xTicks.indexOf(Math.round(v * 1000) / 1000) >= 0 ? String(v) : '');

const grids = gridBoxes.map(b => ({
  left: b.left, top: b.top, width: GW, height: GH,
  show: true, backgroundColor: BG, borderWidth: 0, containLabel: false
}));

const xAxes = gridBoxes.map((b, i) => ({
  type: 'value', gridIndex: i, min: 0, max: XMAX, interval: 25,
  axisLine: { show: false }, axisTick: { show: false },
  splitLine: { show: true, lineStyle: { color: '#ffffff', width: 1.2 } },
  axisLabel: { show: i >= 2, formatter: fmtX, margin: 5, color: TEXT, fontFamily: FONT, fontSize: 16 },
  name: i >= 2 ? 'Epoch' : '', nameLocation: 'middle', nameGap: 29,
  nameTextStyle: { color: TEXT, fontFamily: FONT, fontSize: 17 }
}));

const yAxes = gridBoxes.map((b, i) => ({
  type: 'value', gridIndex: i, min: yTicks[0], max: yTicks[yTicks.length - 1], interval: 0.2,
  axisLine: { show: false }, axisTick: { show: false },
  splitLine: { show: true, lineStyle: { color: '#ffffff', width: 1.2 } },
  axisLabel: { show: i % 2 === 0, formatter: fmtY, margin: 11, color: TEXT, fontFamily: FONT, fontSize: 16 },
  name: i === 0 ? '{a|' + rowLabels[0] + '}' : (i === 2 ? '{a|Loss}{b|Aug}' : ''),
  nameLocation: 'middle', nameRotate: 90, nameGap: 56,
  nameTextStyle: {
    color: TEXT, fontFamily: FONT,
    rich: {
      a: { fontSize: 17, fontFamily: FONT, color: TEXT, lineHeight: 22 },
      b: { fontSize: 12, fontFamily: FONT, color: TEXT, fontStyle: 'italic', lineHeight: 12, verticalAlign: 'bottom' }
    }
  }
}));

const series = [];
panels.forEach((arrs, p) => {
  arrs.forEach((arr, k) => {
    series.push({
      type: 'line', name: modelNames[k], xAxisIndex: p, yAxisIndex: p,
      data: arr.map((v, i) => [epochs[i], v]),
      showSymbol: false, symbol: 'none', smooth: false,
      lineStyle: { width: 1.7, color: modelColors[k] },
      itemStyle: { color: modelColors[k] },
      z: 2 + k, animation: false, silent: true
    });
  });
});

chart.setOption({
  backgroundColor: '#ffffff',
  animation: false,
  textStyle: { fontFamily: FONT },
  legend: {
    data: modelNames, top: 8, left: 164, icon: 'rect', itemWidth: 38, itemHeight: 2,
    itemGap: 18, textStyle: { color: TEXT, fontFamily: FONT, fontSize: 18, padding: [0, 0, 0, -2] }
  },
  grid: grids,
  xAxis: xAxes,
  yAxis: yAxes,
  graphic: [
    { type: 'text', x: 87 + GW / 2, y: 48, style: { text: panelTitles[0], fill: TEXT, font: '17px "' + FONT + '"', align: 'center', verticalAlign: 'middle' } },
    { type: 'text', x: 605 + GW / 2, y: 48, style: { text: panelTitles[1], fill: TEXT, font: '17px "' + FONT + '"', align: 'center', verticalAlign: 'middle' } }
  ],
  series: series
});
</script>
</body>
</html>
